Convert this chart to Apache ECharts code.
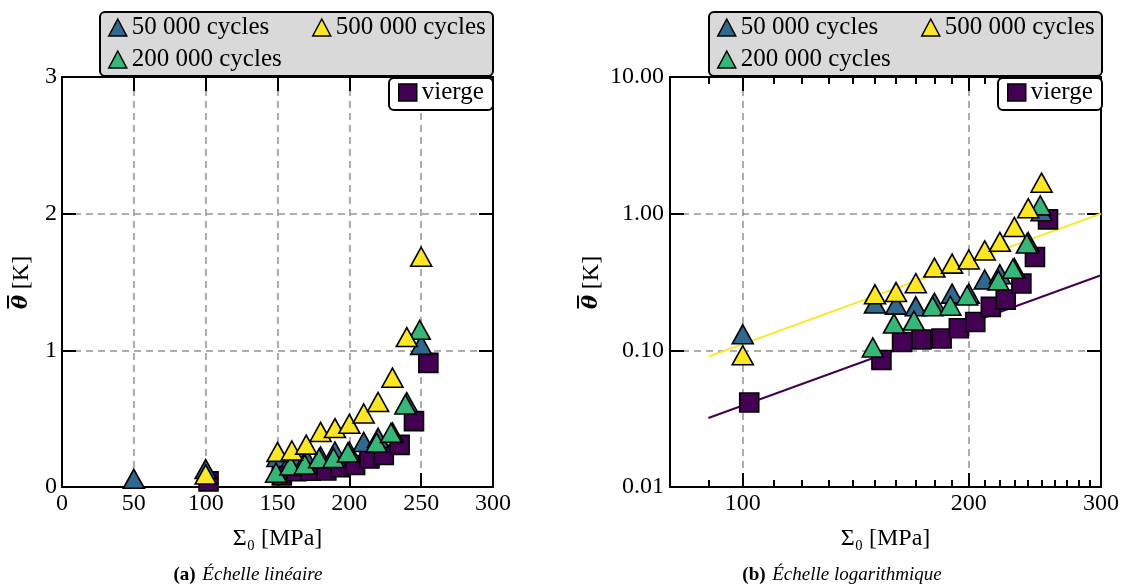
<!DOCTYPE html>
<html>
<head>
<meta charset="utf-8">
<script src="https://cdn.jsdelivr.net/npm/echarts@6/dist/echarts.min.js"></script>
<style>
html,body{margin:0;padding:0;background:#fff;}
#chart{width:1128px;height:587px;}
</style>
</head>
<body>
<div id="chart"></div>
<script>
// ---- data ----
const names = ['50 000 cycles', '200 000 cycles', '500 000 cycles', 'vierge'];
const colors = ['#31688e', '#35b779', '#fde725', '#440154'];

const x50k  = [50, 100, 150, 160, 170, 180, 190, 200, 210, 220, 230, 240, 250];
const y50k  = [0.06, 0.131, 0.22, 0.216, 0.21, 0.223, 0.26, 0.26, 0.33, 0.36, 0.40, 0.62, 1.04];

const x200k = [149, 159, 169, 179, 189, 199, 219, 229, 239, 249];
const y200k = [0.105, 0.157, 0.165, 0.21, 0.212, 0.252, 0.325, 0.396, 0.604, 1.15];

const x500k = [100, 150, 160, 170, 180, 190, 200, 210, 220, 230, 240, 250];
const y500k = [0.092, 0.257, 0.267, 0.31, 0.403, 0.431, 0.462, 0.538, 0.622, 0.80, 1.097, 1.685];

const xVierge = [102, 153, 163, 173, 184, 194, 204, 214, 224, 235, 245, 255];
const yVierge = [0.0415, 0.085, 0.115, 0.12, 0.122, 0.145, 0.161, 0.208, 0.235, 0.308, 0.482, 0.908];

// power-law fits shown in the log panel (end points)
const fitX = [90, 300];
const fitYellow = [0.09, 1.0];
const fitPurple = [0.032, 0.354];

// tick labels
const linXTicks = [0, 50, 100, 150, 200, 250, 300];
const linYTicks = [0, 1, 2, 3];
const logXMajor = [100, 200, 300];
const logXMinor = [90, 110, 120, 130, 140, 150, 160, 170, 180, 190, 210, 220, 230, 240, 250, 260, 270, 280, 290];
const logYTicks = [0.01, 0.1, 1, 10];

// ---- helpers ----
const FONT = 'Liberation Serif';
const zip = (xs, ys) => xs.map((x, i) => [x, ys[i]]);
const pairs = [zip(x50k, y50k), zip(x200k, y200k), zip(x500k, y500k), zip(xVierge, yVierge)];

const axisLine = { show: true, onZero: false, lineStyle: { color: '#000', width: 2 } };
const gridDash = { show: true, lineStyle: { color: '#939393', width: 1.5, type: [7, 5] } };
const labelStyle = { color: '#000', fontSize: 24, fontFamily: FONT };
const xName = 'Σ₀ [MPa]';
// y name: bold italic theta with an overline (rich text: a thin bar line above the theta)
const yNameRich = {
  o:  { width: 13, height: 2, lineHeight: 4, backgroundColor: '#000', fontSize: 2 },
  sp: { width: 40, height: 2, lineHeight: 4, fontSize: 2 },
  t:  { fontFamily: 'DejaVu Serif', fontStyle: 'italic', fontWeight: 'bold', fontSize: 21, color: '#000', width: 13, lineHeight: 24 },
  n:  { fontFamily: FONT, fontSize: 24, color: '#000', width: 40, lineHeight: 24 }
};
const yName = '{o| }{sp| }\n{t|θ}{n| [K]}';

const grids = [
  { left: 62, top: 77, width: 431, height: 410 },
  { left: 670, top: 77, width: 431, height: 410 }
];

const tickMajor = { show: true, inside: true, length: 14, lineStyle: { color: '#000', width: 2 } };

const xAxes = [
  // left plot
  { gridIndex: 0, type: 'value', position: 'bottom', min: 0, max: 300, interval: 50,
    axisLine, axisTick: tickMajor,
    axisLabel: { ...labelStyle, margin: 5, formatter: v => linXTicks.includes(v) ? String(v) : '' },
    splitLine: gridDash,
    name: xName, nameLocation: 'middle', nameGap: 40, nameTextStyle: { ...labelStyle } },
  { gridIndex: 0, type: 'value', position: 'top', min: 0, max: 300, interval: 50,
    axisLine, axisTick: tickMajor,
    axisLabel: { show: false }, splitLine: { show: false } },
  // right plot
  { gridIndex: 1, type: 'log', logBase: 10, position: 'bottom', min: 80, max: 300,
    axisLine,
    axisTick: { ...tickMajor, customValues: logXMajor },
    axisLabel: { ...labelStyle, margin: 5, customValues: logXMajor, formatter: v => String(Math.round(v)) },
    splitLine: gridDash,
    name: xName, nameLocation: 'middle', nameGap: 40, nameTextStyle: { ...labelStyle } },
  { gridIndex: 1, type: 'log', logBase: 10, position: 'bottom', min: 80, max: 300,
    axisLine: { show: false },
    axisTick: { show: true, inside: true, length: 7, customValues: logXMinor, lineStyle: { color: '#000', width: 2 } },
    axisLabel: { show: false }, splitLine: { show: false } },
  { gridIndex: 1, type: 'log', logBase: 10, position: 'top', min: 80, max: 300,
    axisLine,
    axisTick: { ...tickMajor, customValues: logXMajor },
    axisLabel: { show: false }, splitLine: { show: false } },
  { gridIndex: 1, type: 'log', logBase: 10, position: 'top', min: 80, max: 300,
    axisLine: { show: false },
    axisTick: { show: true, inside: true, length: 7, customValues: logXMinor, lineStyle: { color: '#000', width: 2 } },
    axisLabel: { show: false }, splitLine: { show: false } }
];

const yAxes = [
  { gridIndex: 0, type: 'value', position: 'left', min: 0, max: 3, interval: 1,
    axisLine, axisTick: tickMajor,
    axisLabel: { ...labelStyle, margin: 5, formatter: v => linYTicks.includes(v) ? String(v) : '' },
    splitLine: gridDash,
    name: yName, nameLocation: 'middle', nameRotate: 90, nameGap: 28, nameTextStyle: { rich: yNameRich } },
  { gridIndex: 0, type: 'value', position: 'right', min: 0, max: 3, interval: 1,
    axisLine, axisTick: tickMajor,
    axisLabel: { show: false }, splitLine: { show: false } },
  { gridIndex: 1, type: 'log', logBase: 10, position: 'left', min: 0.01, max: 10,
    axisLine,
    axisTick: { ...tickMajor, customValues: logYTicks },
    axisLabel: { ...labelStyle, margin: 6, customValues: logYTicks, formatter: v => Number(v).toFixed(2) },
    splitLine: gridDash,
    name: yName, nameLocation: 'middle', nameRotate: 90, nameGap: 66, nameTextStyle: { rich: yNameRich } },
  { gridIndex: 1, type: 'log', logBase: 10, position: 'right', min: 0.01, max: 10,
    axisLine,
    axisTick: { ...tickMajor, customValues: logYTicks },
    axisLabel: { show: false }, splitLine: { show: false } }
];

function scatterSeries(i, xIdx, yIdx, z) {
  const isSquare = i === 3;
  return {
    type: 'scatter', name: names[i], xAxisIndex: xIdx, yAxisIndex: yIdx,
    data: pairs[i], clip: true,
    symbol: isSquare ? 'rect' : 'triangle',
    symbolSize: isSquare ? 19 : [21, 19],
    itemStyle: { color: colors[i], borderColor: '#000', borderWidth: 1.6, opacity: 1 },
    emphasis: { disabled: true },
    z
  };
}

const order = [3, 0, 1, 2]; // drawing order: vierge, 50k, 200k, 500k
const series = [];
series.push({ type: 'line', name: 'fit500', xAxisIndex: 2, yAxisIndex: 2, data: zip(fitX, fitYellow),
  showSymbol: false, symbol: 'none', lineStyle: { color: colors[2], width: 2 }, z: 2, silent: true });
series.push({ type: 'line', name: 'fitVierge', xAxisIndex: 2, yAxisIndex: 2, data: zip(fitX, fitPurple),
  showSymbol: false, symbol: 'none', lineStyle: { color: colors[3], width: 2 }, z: 2, silent: true });
order.forEach((i, k) => series.push(scatterSeries(i, 0, 0, 3 + k)));
order.forEach((i, k) => series.push(scatterSeries(i, 2, 2, 3 + k)));

const legendItem = i => ({
  name: names[i], icon: i === 3 ? 'rect' : 'triangle',
  itemStyle: { color: colors[i], borderColor: '#000', borderWidth: 1.5 }
});
const legendText = { color: '#000', fontSize: 25, fontFamily: FONT };

function legends(off) {
  const common = { orient: 'vertical', padding: 0, itemWidth: 18, itemHeight: 17, itemGap: 7,
    selectedMode: false, z: 60, textStyle: legendText };
  return [
    { ...common, left: 108 + off, top: 15, data: [legendItem(0), legendItem(1)] },
    { ...common, left: 312 + off, top: 15, data: [legendItem(2)] },
    { ...common, left: 398 + off, top: 80, data: [legendItem(3)] }
  ];
}

const boxes = off => [
  { type: 'rect', z: 50, shape: { x: 100 + off, y: 12, width: 393, height: 64, r: 5 },
    style: { fill: '#d9d9d9', stroke: '#000', lineWidth: 2 } },
  { type: 'rect', z: 50, shape: { x: 389 + off, y: 78, width: 104, height: 32, r: 5 },
    style: { fill: '#ffffff', stroke: '#000', lineWidth: 2 } }
];

const captionRich = {
  b: { fontFamily: FONT, fontWeight: 'bold', fontSize: 19, fill: '#000' },
  i: { fontFamily: FONT, fontStyle: 'italic', fontSize: 19, fill: '#000' }
};

const option = {
  animation: false,
  backgroundColor: '#ffffff',
  grid: grids,
  xAxis: xAxes,
  yAxis: yAxes,
  legend: [...legends(0), ...legends(609)],
  graphic: [
    ...boxes(0), ...boxes(609),
    { type: 'text', z: 50, x: 248, y: 575,
      style: { text: '{b|(a)}  {i|Échelle linéaire}', rich: captionRich, align: 'center', verticalAlign: 'middle' } },
    { type: 'text', z: 50, x: 842, y: 575,
      style: { text: '{b|(b)}  {i|Échelle logarithmique}', rich: captionRich, align: 'center', verticalAlign: 'middle' } }
  ],
  series
};

const chart = echarts.init(document.getElementById('chart'), null, { renderer: 'canvas' });
chart.setOption(option);
</script>
</body>
</html>
